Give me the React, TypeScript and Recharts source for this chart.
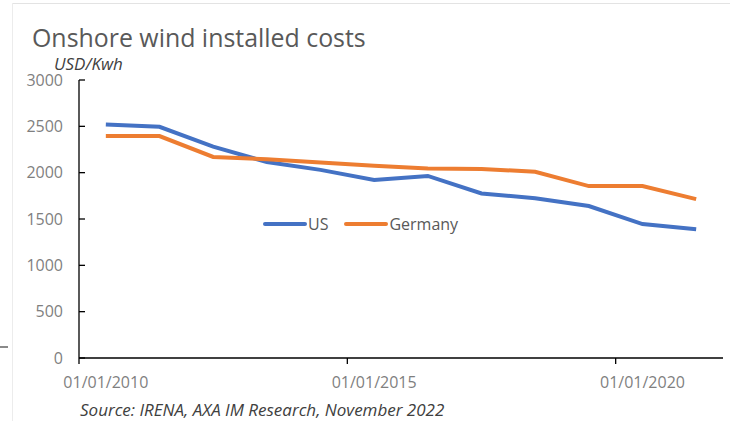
import { LineChart, Line, XAxis, YAxis, Legend } from 'recharts';

const years = [
  '01/01/2010', '01/01/2011', '01/01/2012', '01/01/2013', '01/01/2014', '01/01/2015',
  '01/01/2016', '01/01/2017', '01/01/2018', '01/01/2019', '01/01/2020', '01/01/2021',
];
const usCosts = [2520, 2495, 2280, 2115, 2030, 1920, 1965, 1775, 1725, 1640, 1445, 1390];
const germanyCosts = [2395, 2395, 2170, 2145, 2110, 2075, 2045, 2040, 2010, 1855, 1855, 1715];
const yTicks = [0, 500, 1000, 1500, 2000, 2500, 3000];
const seriesOrder = ['US', 'Germany'];

const chartData = years.map((date, i) => ({ date, US: usCosts[i], Germany: germanyCosts[i] }));

const FONT = "'Open Sans', sans-serif";
const TICK_GREY = '#7f7f7f';

// x ticks: label centred on the category, tick mark on the band edge (like Excel)
function XTick(props: any) {
  const { x, y, payload } = props;
  const edge = x - (payload.offset || 0);
  return (
    <g>
      <line x1={edge} x2={edge} y1={y} y2={y + 6} stroke="#000" strokeWidth={1.3} />
      <text x={x} y={y + 30} textAnchor="middle" fill={TICK_GREY} fontSize={16} fontFamily={FONT}>
        {payload.value}
      </text>
    </g>
  );
}

// y ticks point inward
function YTick(props: any) {
  const { x, y, payload } = props;
  return (
    <g>
      <line x1={x + 16} x2={x + 22} y1={y} y2={y} stroke="#000" strokeWidth={1.3} />
      <text x={x} y={y} dy="0.35em" textAnchor="end" fill={TICK_GREY} fontSize={16} fontFamily={FONT}>
        {payload.value}
      </text>
    </g>
  );
}

function LegendContent(props: any) {
  const items = [...(props.payload || [])].sort(
    (a: any, b: any) => seriesOrder.indexOf(a.value) - seriesOrder.indexOf(b.value)
  );
  return (
    <div style={{ display: 'flex', alignItems: 'center', fontFamily: FONT, fontSize: 16, color: '#595959' }}>
      {items.map((it: any) => (
        <div key={it.value} style={{ display: 'flex', alignItems: 'center', marginRight: 16 }}>
          <svg width={44} height={8}>
            <line x1={2} x2={42} y1={4} y2={4} stroke={it.color} strokeWidth={4} strokeLinecap="round" />
          </svg>
          <span style={{ marginLeft: 1 }}>{it.value}</span>
        </div>
      ))}
    </div>
  );
}

export default function App() {
  return (
    <div style={{ position: 'fixed', left: 0, top: 0, width: 733, height: 421, background: '#fff', overflow: 'hidden' }}>
      {/* screenshot frame remnants */}
      <div style={{ position: 'absolute', left: 12, top: 3, width: 718, height: 1, background: '#e3e3e3' }} />
      <div style={{ position: 'absolute', left: 12, top: 3, width: 1, height: 418, background: '#ececec' }} />
      <div style={{ position: 'absolute', left: 0, top: 346, width: 8, height: 2, background: '#8a8a8a' }} />

      <div style={{ position: 'absolute', left: 32, top: 21, fontFamily: FONT, fontSize: 24.9, color: '#595959', whiteSpace: 'nowrap', lineHeight: '32px' }}>
        Onshore wind installed costs
      </div>
      <div style={{ position: 'absolute', left: 54, top: 53, fontFamily: FONT, fontSize: 17, fontStyle: 'italic', color: '#404040', whiteSpace: 'nowrap', lineHeight: '22px' }}>
        USD/Kwh
      </div>
      <div style={{ position: 'absolute', left: 80, top: 399, fontFamily: FONT, fontSize: 17, fontStyle: 'italic', color: '#404040', whiteSpace: 'nowrap', lineHeight: '22px' }}>
        Source: IRENA, AXA IM Research, November 2022
      </div>

      <LineChart width={733} height={421} data={chartData} margin={{ top: 80, right: 10, bottom: 0, left: 0 }}>
        <XAxis
          dataKey="date"
          scale="band"
          interval={4}
          height={63}
          tickLine={false}
          tickSize={0}
          tickMargin={0}
          axisLine={{ stroke: '#000', strokeWidth: 1.3 }}
          tick={<XTick />}
        />
        <YAxis
          width={79}
          domain={[0, 3000]}
          ticks={yTicks}
          tickLine={false}
          tickSize={0}
          tickMargin={16}
          axisLine={{ stroke: '#000', strokeWidth: 1.3 }}
          tick={<YTick />}
        />
        <Legend
          layout="vertical"
          align="center"
          verticalAlign="middle"
          content={<LegendContent />}
          wrapperStyle={{ left: 263, top: 213, width: 260 }}
        />
        <Line type="linear" dataKey="US" stroke="#4472C4" strokeWidth={4} dot={false} isAnimationActive={false} />
        <Line type="linear" dataKey="Germany" stroke="#ED7D31" strokeWidth={4} dot={false} isAnimationActive={false} />
      </LineChart>
    </div>
  );
}
